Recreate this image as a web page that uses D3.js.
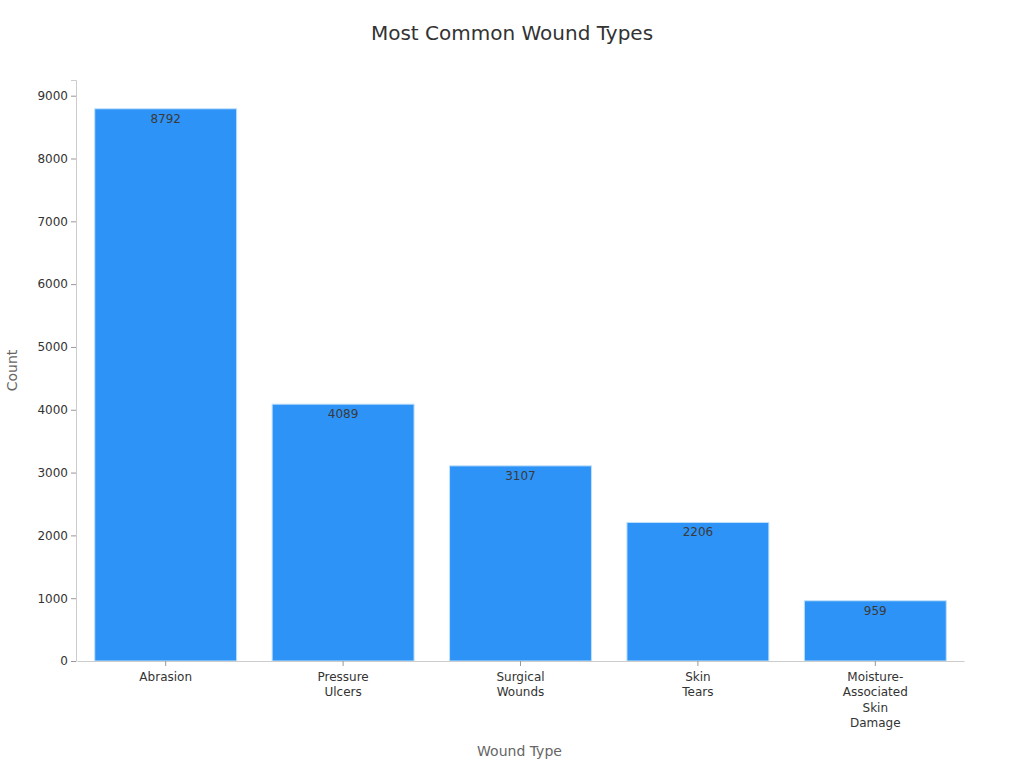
<!DOCTYPE html>
<html><head><meta charset="utf-8">
<script src="https://cdn.jsdelivr.net/npm/d3@7"></script>
<style>body{margin:0;background:#fff;} svg{display:block;font-family:"DejaVu Sans",sans-serif;}</style>
</head><body>
<svg id="chart" width="1024" height="768"></svg>
<script>
const categories = ["Abrasion", "Pressure Ulcers", "Surgical Wounds", "Skin Tears", "Moisture-Associated Skin Damage"];
const counts = [8792, 4089, 3107, 2206, 959];
const yTicks = [0, 1000, 2000, 3000, 4000, 5000, 6000, 7000, 8000, 9000];
const titleText = "Most Common Wound Types";
const xTitle = "Wound Type";
const yTitle = "Count";

const svg = d3.select("#chart");
const m = {left: 76, right: 61, top: 80, bottom: 107};
const W = 1024, H = 768;
const x = d3.scaleBand().domain(categories).range([m.left + 1, W - m.right + 1]).paddingInner(0.2).paddingOuter(0.1);
const y = d3.scaleLinear().domain([0, 9250]).range([H - m.bottom, m.top]);

svg.append("text").attr("x", 512).attr("y", 40).attr("text-anchor", "middle")
  .attr("font-size", 20).attr("fill", "#333").text(titleText);

// bars
svg.append("g").selectAll("rect").data(categories).join("rect")
  .attr("x", d => x(d)).attr("width", x.bandwidth())
  .attr("y", (d, i) => y(counts[i])).attr("height", (d, i) => y(0) - y(counts[i]))
  .attr("fill", "#2e93f6").attr("stroke", "#bfe0fb").attr("stroke-width", 1);

svg.append("g").selectAll("text").data(categories).join("text")
  .attr("x", d => x(d) + x.bandwidth() / 2)
  .attr("y", (d, i) => y(counts[i]) + 14)
  .attr("text-anchor", "middle").attr("font-size", 12).attr("fill", "#3a3a3a")
  .text((d, i) => counts[i]);

// y axis
const ya = svg.append("g").attr("transform", `translate(${m.left},0)`)
  .call(d3.axisLeft(y).tickValues(yTicks).tickSize(5).tickPadding(3).tickFormat(d3.format("d")));
ya.select(".domain").attr("stroke", "#ccc");
ya.selectAll(".tick line").attr("stroke", "#999");
ya.selectAll(".tick text").attr("font-size", 12).attr("fill", "#333").attr("font-family", "DejaVu Sans");

// x axis
const xa = svg.append("g").attr("transform", `translate(0,${H - m.bottom})`)
  .call(d3.axisBottom(x).tickSize(5).tickSizeOuter(0).tickPadding(6));
xa.select(".domain").attr("stroke", "#ccc");
xa.selectAll(".tick line").attr("stroke", "#999");
xa.selectAll(".tick text").attr("font-size", 12).attr("fill", "#333").attr("font-family", "DejaVu Sans")
  .each(function(d) {
    const t = d3.select(this);
    const parts = d.replace(/-/g, "- ").split(/\s+/).filter(s => s.length);
    t.text(null);
    parts.forEach((p, i) => {
      t.append("tspan").attr("x", 0).attr("dy", i === 0 ? "0.71em" : "1.3em").text(p);
    });
  });

svg.append("text").attr("x", (m.left + W - m.right) / 2).attr("y", 756).attr("text-anchor", "middle")
  .attr("font-size", 14).attr("fill", "#666").text(xTitle);
svg.append("text").attr("transform", `translate(17,${(m.top + H - m.bottom) / 2 + 0}) rotate(-90)`)
  .attr("text-anchor", "middle").attr("font-size", 14).attr("fill", "#666").text(yTitle);
</script>
</body></html>
